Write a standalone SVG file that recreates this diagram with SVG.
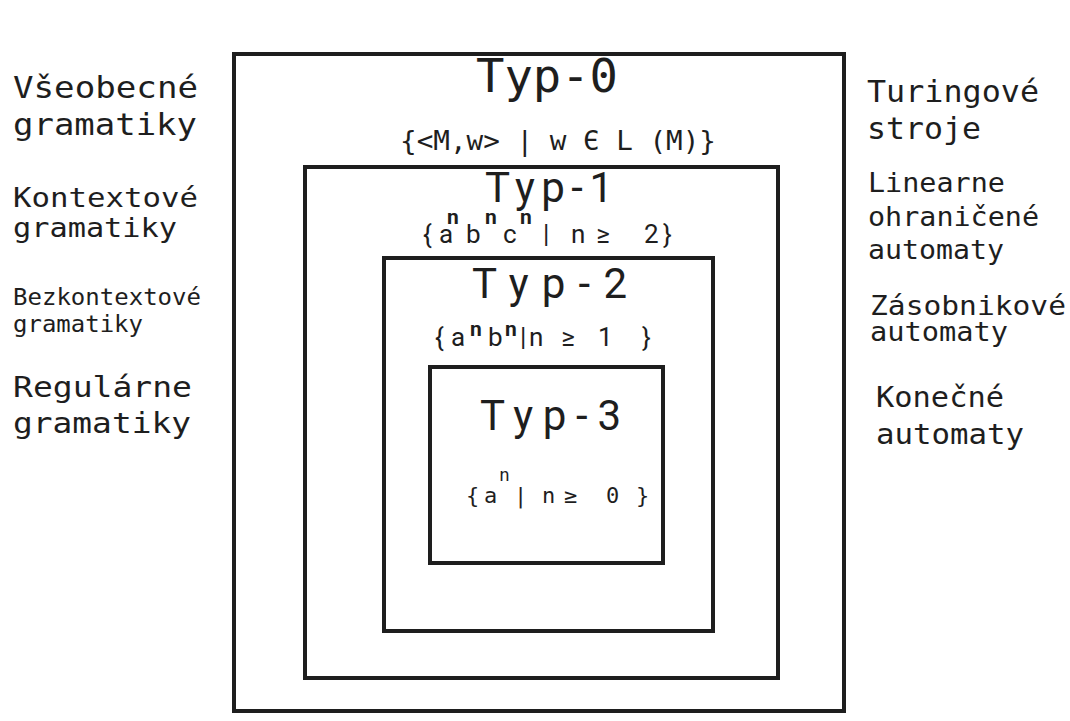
<svg xmlns="http://www.w3.org/2000/svg" width="1070" height="721" viewBox="0 0 1070 721">
<style>
.box{fill:none;stroke:#1e1e1e;stroke-width:4;stroke-linejoin:miter}
text{fill:#1e1e1e}
.m{font-family:"DejaVu Sans Mono","Liberation Mono",monospace}
.r{font-family:Roboto,"Liberation Sans",sans-serif}
.sup{font-size:21px;font-weight:bold}
</style>
<rect width="1070" height="721" fill="#ffffff"/>
<g id="typ0">
<rect class="box" x="234" y="54" width="610" height="657"/>
<text class="m" x="476" y="92" font-size="46" textLength="142" lengthAdjust="spacingAndGlyphs">Typ-0</text>
<text class="m" x="400" y="150" font-size="27" textLength="316" lengthAdjust="spacingAndGlyphs">{&lt;M,w&gt; | w Є L (M)}</text>
</g>
<g id="typ1">
<rect class="box" x="305" y="167" width="473" height="511"/>
<text class="r" x="485" y="202" font-size="42" textLength="128" lengthAdjust="spacing">Typ-1</text>
<g class="r" font-size="26">
<text x="423" y="243">{</text><text x="439" y="243">a</text><text class="sup" x="447" y="224">n</text>
<text x="466" y="243">b</text><text class="sup" x="485" y="224">n</text>
<text x="503" y="243">c</text><text class="sup" x="520" y="224">n</text>
<text x="543" y="243">|</text><text x="571" y="243">n</text><text x="596" y="243">≥</text>
<text x="644" y="243">2</text><text x="663" y="243">}</text>
</g>
</g>
<g id="typ2">
<rect class="box" x="384" y="258" width="329" height="373"/>
<text class="r" x="472" y="298" font-size="42" textLength="155" lengthAdjust="spacing">Typ-2</text>
<g class="r" font-size="26">
<text x="435" y="346">{</text><text x="451" y="346">a</text><text class="sup" x="470" y="336">n</text>
<text x="488" y="346">b</text><text class="sup" x="505" y="336">n</text>
<text x="520" y="346">|</text><text x="529" y="346">n</text><text x="561" y="346">≥</text>
<text x="598" y="346">1</text><text x="642" y="346">}</text>
</g>
</g>
<g id="typ3">
<rect class="box" x="430" y="367" width="233" height="196"/>
<text class="r" x="480" y="430" font-size="42" textLength="141" lengthAdjust="spacing">Typ-3</text>
<g class="m" font-size="22">
<text x="466" y="503">{</text><text x="484" y="503">a</text><text x="499" y="481" font-size="18">n</text>
<text x="514" y="503">|</text><text x="542" y="503">n</text><text x="564" y="503">≥</text>
<text x="606" y="503">0</text><text x="636" y="503">}</text>
</g>
</g>
<g id="left-labels" class="m">
<text x="13" y="98" font-size="30" textLength="185" lengthAdjust="spacingAndGlyphs">Všeobecné</text>
<text x="13" y="135" font-size="30" textLength="184" lengthAdjust="spacingAndGlyphs">gramatiky</text>
<text x="13" y="207" font-size="27" textLength="185" lengthAdjust="spacingAndGlyphs">Kontextové</text>
<text x="13" y="237" font-size="27" textLength="164" lengthAdjust="spacingAndGlyphs">gramatiky</text>
<text x="13" y="305" font-size="23" textLength="188" lengthAdjust="spacingAndGlyphs">Bezkontextové</text>
<text x="13" y="332" font-size="23" textLength="130" lengthAdjust="spacingAndGlyphs">gramatiky</text>
<text x="13" y="397" font-size="28" textLength="179" lengthAdjust="spacingAndGlyphs">Regulárne</text>
<text x="13" y="433" font-size="28" textLength="178" lengthAdjust="spacingAndGlyphs">gramatiky</text>
</g>
<g id="right-labels" class="m">
<text x="867" y="102" font-size="31" textLength="172" lengthAdjust="spacingAndGlyphs">Turingové</text>
<text x="867" y="139" font-size="31" textLength="114" lengthAdjust="spacingAndGlyphs">stroje</text>
<text x="868" y="192" font-size="26" textLength="137" lengthAdjust="spacingAndGlyphs">Linearne</text>
<text x="868" y="226" font-size="26" textLength="171" lengthAdjust="spacingAndGlyphs">ohraničené</text>
<text x="868" y="259" font-size="26" textLength="136" lengthAdjust="spacingAndGlyphs">automaty</text>
<text x="870" y="315" font-size="27" textLength="196" lengthAdjust="spacingAndGlyphs">Zásobnikové</text>
<text x="870" y="341" font-size="27" textLength="138" lengthAdjust="spacingAndGlyphs">automaty</text>
<text x="876" y="407" font-size="28" textLength="128" lengthAdjust="spacingAndGlyphs">Konečné</text>
<text x="876" y="444" font-size="28" textLength="148" lengthAdjust="spacingAndGlyphs">automaty</text>
</g>
</svg>
